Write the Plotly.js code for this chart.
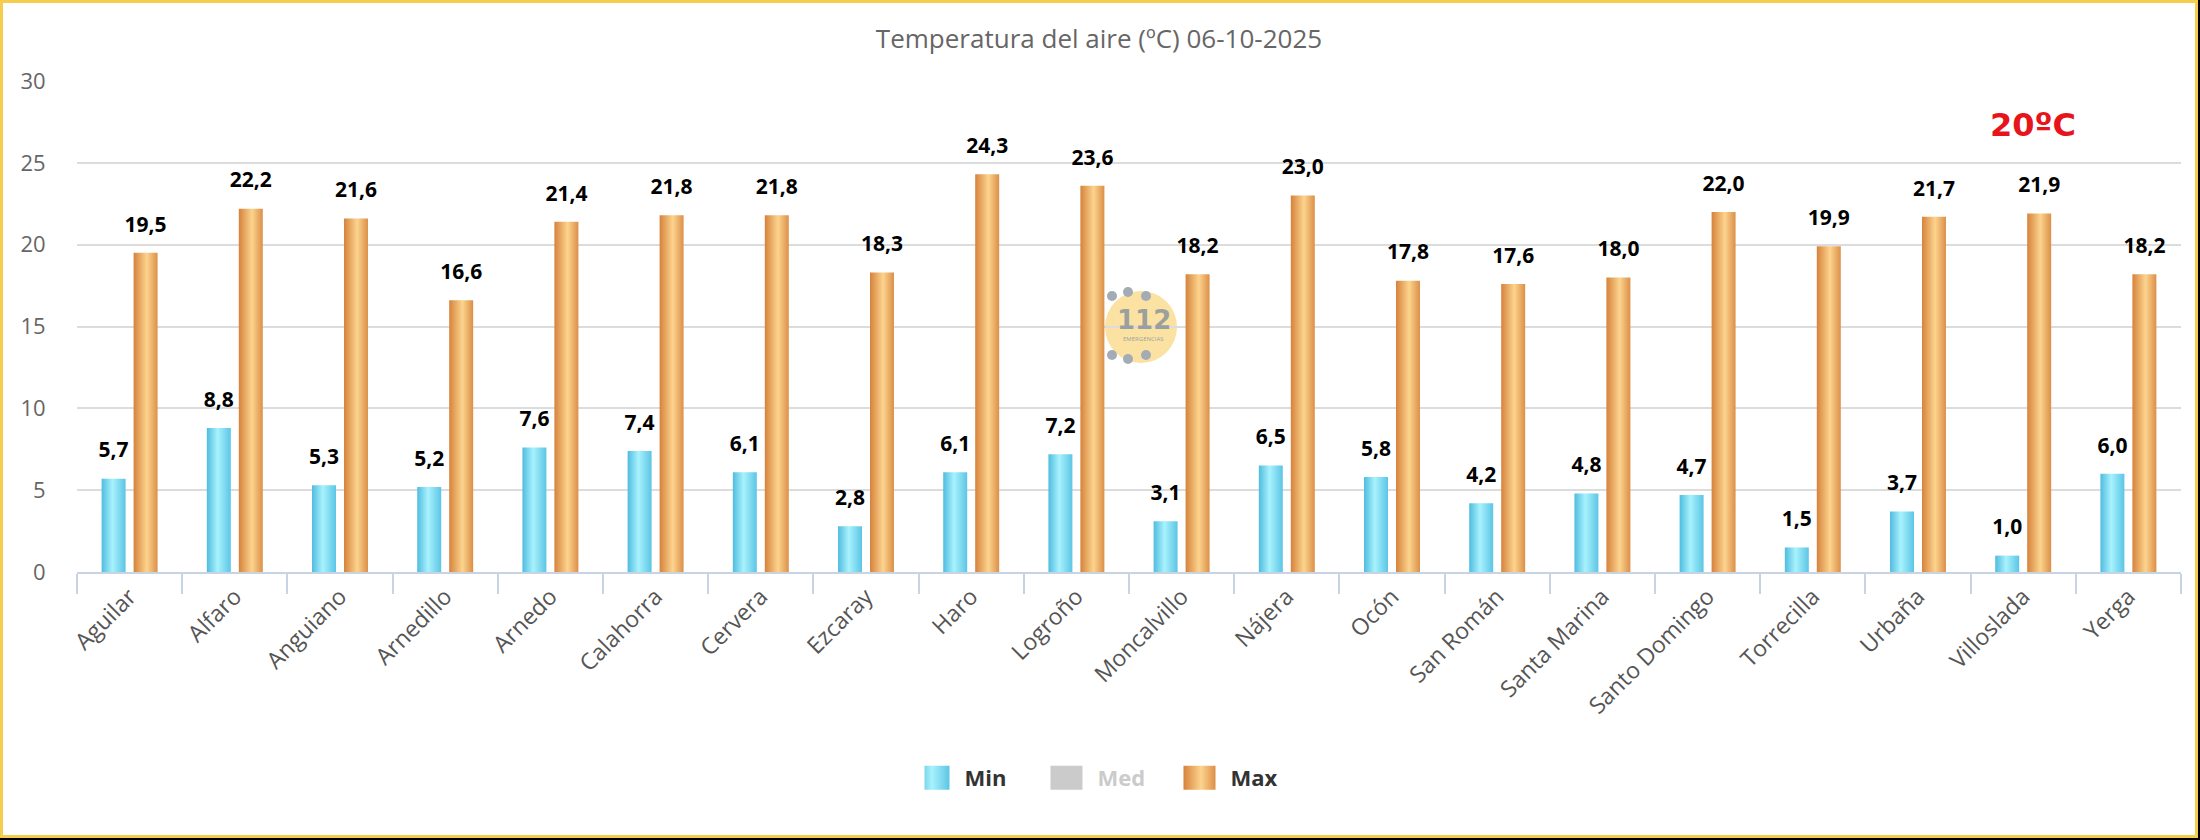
<!DOCTYPE html>
<html lang="es">
<head>
<meta charset="utf-8">
<title>Temperatura del aire (ºC) 06-10-2025</title>
<script src="https://cdn.plot.ly/plotly-3.0.1.min.js"></script>
<style>
  html, body { margin: 0; padding: 0; background: #000; }
  #chart {
    width: 2192px; height: 832px;
    border: 3px solid #f6cd4c;
    background: #fff;
  }
  #grad-defs { position: absolute; width: 0; height: 0; overflow: hidden; }
</style>
</head>
<body>
<!-- horizontal shading used for the columns and legend swatches -->
<svg id="grad-defs" aria-hidden="true">
  <defs>
    <linearGradient id="gMin" x1="0" y1="0" x2="1" y2="0">
      <stop offset="0" stop-color="#4fbcdf"/>
      <stop offset="0.45" stop-color="#a8f2fd"/>
      <stop offset="1" stop-color="#5cc5e5"/>
    </linearGradient>
    <linearGradient id="gMax" x1="0" y1="0" x2="1" y2="0">
      <stop offset="0" stop-color="#d6823b"/>
      <stop offset="0.55" stop-color="#fcd48e"/>
      <stop offset="1" stop-color="#dc8f48"/>
    </linearGradient>
  </defs>
</svg>
<div id="chart"></div>
<script>
// Estaciones
const estaciones = ['Aguilar', 'Alfaro', 'Anguiano', 'Arnedillo', 'Arnedo', 'Calahorra',
  'Cervera', 'Ezcaray', 'Haro', 'Logroño', 'Moncalvillo', 'Nájera', 'Ocón', 'San Román',
  'Santa Marina', 'Santo Domingo', 'Torrecilla', 'Urbaña', 'Villoslada', 'Yerga'];

// Temperaturas (ºC)
const tMin = [5.7, 8.8, 5.3, 5.2, 7.6, 7.4, 6.1, 2.8, 6.1, 7.2, 3.1, 6.5, 5.8, 4.2, 4.8, 4.7, 1.5, 3.7, 1.0, 6.0];
const tMax = [19.5, 22.2, 21.6, 16.6, 21.4, 21.8, 21.8, 18.3, 24.3, 23.6, 18.2, 23.0, 17.8, 17.6, 18.0, 22.0, 19.9, 21.7, 21.9, 18.2];
// Media: serie desactivada, sin valores publicados
const tMed = [null, null, null, null, null, null, null, null, null, null,
  null, null, null, null, null, null, null, null, null, null];

const yTicks = [0, 5, 10, 15, 20, 25, 30];

const FONT = 'Open Sans, Noto Sans, sans-serif';

const barMin = {
  type: 'bar', name: 'Min', x: estaciones, y: tMin,
  offsetgroup: 'min', alignmentgroup: 'a', meta: 'gMin',
  marker: { color: '#6fd0ec' }, hoverinfo: 'skip'
};
const barMed = {
  type: 'bar', name: '<span style="color:#999">Med</span>', x: estaciones, y: tMed,
  visible: 'legendonly', marker: { color: '#999999' }, hoverinfo: 'skip'
};
const barMax = {
  type: 'bar', name: 'Max', x: estaciones, y: tMax,
  offsetgroup: 'max', alignmentgroup: 'a', meta: 'gMax',
  marker: { color: '#ecaa62' }, hoverinfo: 'skip'
};

// Etiquetas de valor sobre cada columna
function etiquetas(vals, grupo) {
  return {
    type: 'scatter', mode: 'markers+text', x: estaciones, y: vals,
    offsetgroup: grupo, alignmentgroup: 'a',
    marker: { size: 24, opacity: 0 },
    texttemplate: '%{y:.1f}', textposition: 'top center',
    textfont: { family: FONT, size: 21, color: '#000', weight: 700 },
    cliponaxis: false, showlegend: false, hoverinfo: 'skip'
  };
}

const data = [barMin, barMed, barMax, etiquetas(tMin, 'min'), etiquetas(tMax, 'max')];

const layout = {
  width: 2192, height: 832,
  paper_bgcolor: '#fff', plot_bgcolor: '#fff',
  separators: ',.',
  margin: { l: 74, r: 14, t: 78, b: 263, pad: 0, autoexpand: false },
  font: { family: FONT, color: '#555' },
  title: {
    text: 'Temperatura del aire (ºC) 06-10-2025',
    font: { family: FONT, size: 26, color: '#666' },
    x: 0.5, xanchor: 'center', xref: 'container',
    y: 0.957, yanchor: 'middle', yref: 'container'
  },
  barmode: 'group', bargap: 0.392, bargroupgap: 0.25,
  scattermode: 'group', scattergap: 0.392,
  xaxis: {
    type: 'category', tickson: 'boundaries',
    ticks: 'outside', ticklen: 20, tickwidth: 2, tickcolor: '#c8d4e4',
    showline: true, linecolor: '#c8d4e4', linewidth: 2,
    showgrid: false, zeroline: false,
    tickangle: -45,
    tickfont: { family: FONT, size: 23, color: '#555' }
  },
  yaxis: {
    range: [0, 30], tickvals: yTicks, ticktext: yTicks.map(String),
    showgrid: true, gridcolor: '#dcdcdc', gridwidth: 2,
    zeroline: false, showline: false,
    ticks: 'outside', ticklen: 26, tickcolor: 'rgba(0,0,0,0)',
    tickfont: { family: FONT, size: 22, color: '#666' }
  },
  legend: {
    orientation: 'h', xref: 'container', yref: 'container',
    x: 0.5114, xanchor: 'center', y: 0.0685, yanchor: 'middle',
    font: { family: FONT, size: 22, color: '#333', weight: 700 },
    bgcolor: 'rgba(0,0,0,0)', entrywidth: 88, entrywidthmode: 'pixels',
    itemclick: false, itemdoubleclick: false
  },
  shapes: [
    // sello 112 en segundo plano
    { type: 'circle', layer: 'below', xref: 'paper', yref: 'paper',
      xsizemode: 'pixel', ysizemode: 'pixel', xanchor: 0.5057, yanchor: 0.499,
      x0: -36, x1: 36, y0: -36, y1: 36,
      fillcolor: '#fbe2a2', line: { width: 0 } },
    ...[[-29, 31], [-13, 35], [5, 31], [-29, -28], [-13, -32], [5, -28]].map(([dx, dy]) => ({
      type: 'circle', layer: 'below', xref: 'paper', yref: 'paper',
      xsizemode: 'pixel', ysizemode: 'pixel', xanchor: 0.5057, yanchor: 0.499,
      x0: dx - 5, x1: dx + 5, y0: dy - 5, y1: dy + 5,
      fillcolor: '#a3abb4', line: { width: 0 } }))
  ],
  annotations: [
    { text: '112', xref: 'paper', yref: 'paper', x: 0.5057, y: 0.499,
      xanchor: 'center', yanchor: 'middle',
      xshift: 3, yshift: 7, showarrow: false,
      font: { family: 'DejaVu Sans, sans-serif', size: 26, color: 'rgba(130,142,156,0.8)', weight: 700 } },
    { text: 'EMERGENCIAS', xref: 'paper', yref: 'paper', x: 0.5057, y: 0.499,
      xanchor: 'center', yanchor: 'middle',
      xshift: 3, yshift: -12, showarrow: false,
      font: { family: FONT, size: 6, color: 'rgba(130,142,156,0.8)' } },
    { text: '20ºC', xref: 'paper', yref: 'paper', x: 0.9297, y: 0.91,
      xanchor: 'center', yanchor: 'middle', showarrow: false,
      font: { family: 'DejaVu Sans, sans-serif', size: 32, color: '#e8141c', weight: 700 } }
  ]
};

// Aplica el degradado horizontal a columnas y muestras de la leyenda
function sombrear(gd) {
  gd.querySelectorAll('.barlayer .trace').forEach(tr => {
    const cd = tr.__data__;
    const id = cd && cd[0] && cd[0].trace && cd[0].trace.meta;
    if (!id) return;
    tr.querySelectorAll('path').forEach(p => { p.style.fill = 'url(#' + id + ')'; });
  });
  gd.querySelectorAll('.legend .traces').forEach(tr => {
    const d = tr.__data__;
    const trace = d && d[0] && d[0].trace;
    tr.querySelectorAll('.legendpoints path').forEach(p => {
      p.setAttribute('d', 'M5,12H-27V-12H5Z');
      if (trace && trace.meta) p.style.fill = 'url(#' + trace.meta + ')';
    });
  });
}

const gd = document.getElementById('chart');
Plotly.newPlot(gd, data, layout, { displayModeBar: false, responsive: false }).then(g => {
  sombrear(g);
  g.on('plotly_afterplot', () => sombrear(g));
});
</script>
</body>
</html>
